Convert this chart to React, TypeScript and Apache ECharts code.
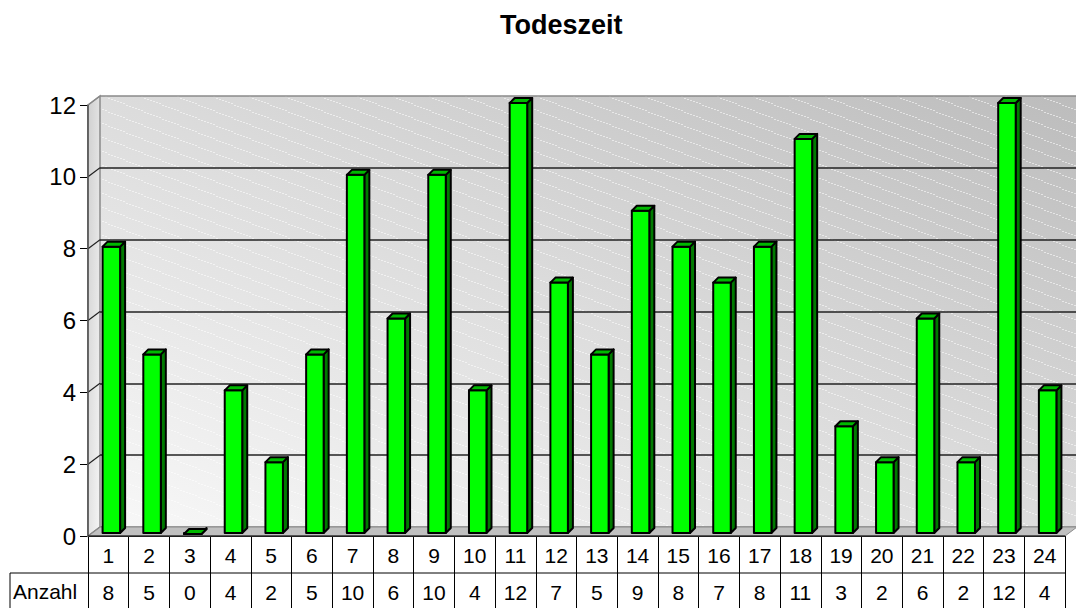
import React, { useEffect, useRef } from "react";
import * as echarts from "echarts";

const title = "Todeszeit";
const rowLabel = "Anzahl";
const hours = ["1", "2", "3", "4", "5", "6", "7", "8", "9", "10", "11", "12", "13", "14", "15", "16", "17", "18", "19", "20", "21", "22", "23", "24"];
const counts = [8, 5, 0, 4, 2, 5, 10, 6, 10, 4, 12, 7, 5, 9, 8, 7, 8, 11, 3, 2, 6, 2, 12, 4];
const yMin = 0;
const yMax = 12;
const yStep = 2;

const W = 1076;
const H = 608;
const FONT = "Arial, 'Liberation Sans', sans-serif";

function makeStripe(): string | null {
  try {
    const c = document.createElement("canvas");
    c.width = 36;
    c.height = 14;
    const ctx = c.getContext("2d");
    if (!ctx) return null;
    ctx.fillStyle = "rgba(255,255,255,0.55)";
    for (let k = 0; k < 36; k += 3) {
      const y = (k * 14) / 36;
      ctx.fillRect(k, Math.floor(y), 2, 1);
    }
    return c.toDataURL("image/png");
  } catch (e) {
    return null;
  }
}

export default function App() {
  const ref = useRef<HTMLDivElement>(null);
  useEffect(() => {
    document.body.style.margin = "0";
    const chart = echarts.init(ref.current!, null, { renderer: "svg" });
    const FL = 88, FR = 11, FT = 105, FB = 72;
    const DX = 12, DY = -9;
    const nLines = (yMax - yMin) / yStep + 1;
    const splitColors: string[] = [];
    for (let i = 0; i < nLines; i++) splitColors.push(i === nLines - 1 || i === 0 ? "#8a8a8a" : "#222222");

    const option: any = {
      animation: false,
      title: {
        text: title,
        left: 495,
        top: 6,
        textStyle: { fontFamily: FONT, fontSize: 27, fontWeight: "bold", color: "#000" },
      },
      grid: [
        { left: FL, right: FR, top: FT, bottom: FB, containLabel: false },
        {
          left: FL + DX, right: FR - DX, top: FT + DY, bottom: FB - DY, containLabel: false,
          show: true, borderWidth: 0,
          backgroundColor: new echarts.graphic.LinearGradient(0, 1, 1, 0, [
            { offset: 0, color: "#f8f8f8" },
            { offset: 0.5, color: "#dcdcdc" },
            { offset: 1, color: "#bcbcbc" },
          ]),
        },
      ],
      xAxis: [
        {
          type: "category", gridIndex: 0, data: hours, position: "bottom",
          axisLine: { show: true, lineStyle: { color: "#000", width: 1 } },
          axisTick: { show: true, length: 80, interval: 0, lineStyle: { color: "#000", width: 1 } },
          axisLabel: {
            interval: 0, margin: 1,
            formatter: (v: string, i: number) => `{h|${v}}\n{v|${counts[i]}}`,
            rich: {
              h: { fontFamily: FONT, fontSize: 21, lineHeight: 37, color: "#000" },
              v: { fontFamily: FONT, fontSize: 21, lineHeight: 36, color: "#000" },
            },
          },
          splitLine: { show: false },
        },
        { type: "category", gridIndex: 1, data: hours, show: false },
      ],
      yAxis: [
        {
          type: "value", gridIndex: 0, min: yMin, max: yMax, interval: yStep,
          axisLine: { show: true, lineStyle: { color: "#555", width: 1.5 } },
          axisTick: { show: true, length: 8, lineStyle: { color: "#000" } },
          axisLabel: { fontFamily: FONT, fontSize: 24, color: "#000", margin: 12 },
          splitLine: { show: false },
        },
        {
          type: "value", gridIndex: 1, min: yMin, max: yMax, interval: yStep, z: 3,
          axisLine: { show: false }, axisTick: { show: false }, axisLabel: { show: false },
          splitLine: { show: true, lineStyle: { color: splitColors, width: 1.5 } },
        },
      ],
      series: [
        {
          type: "custom",
          xAxisIndex: 0,
          yAxisIndex: 0,
          z: 5,
          data: counts.map((c, i) => [i, c]),
          renderItem: (params: any, api: any) => {
            const i = api.value(0);
            const v = api.value(1);
            const p0 = api.coord([i, 0]);
            const p1 = api.coord([i, v]);
            const w = api.size([1, 0])[0] * 0.43;
            const cx = p0[0] + 3;
            const base = p0[1] - 3;
            const top = p1[1] - 2;
            const l = cx - w / 2;
            const r = cx + w / 2;
            const dx = 5, dy = -5;
            const stroke = { stroke: "#000", lineWidth: 2, lineJoin: "round" };
            return {
              type: "group",
              children: [
                {
                  type: "polygon",
                  shape: { points: [[r, base], [r, top], [r + dx, top + dy], [r + dx, base + dy]] },
                  style: { fill: "#007a00", ...stroke },
                },
                {
                  type: "rect",
                  shape: { x: l, y: top, width: w, height: base - top },
                  style: { fill: "#00ff00", ...stroke },
                },
                {
                  type: "polygon",
                  shape: { points: [[l, top], [r, top], [r + dx, top + dy], [l + dx, top + dy]] },
                  style: { fill: "#00b800", ...stroke },
                },
              ],
            };
          },
        },
      ],
    };
    chart.setOption(option);

    const yPix = (t: number) => chart.convertToPixel({ yAxisIndex: 0 }, t) as number;
    const y0 = yPix(yMin);
    const yTop = yPix(yMax);
    const xr = W - FR;
    const graphics: any[] = [];
    const stripe = makeStripe();
    if (stripe) {
      graphics.push({
        type: "rect", z: 1,
        shape: { x: FL + DX, y: yTop + DY, width: W - FL - DX, height: y0 - yTop },
        style: { fill: { image: stripe, repeat: "repeat", imageWidth: 36, imageHeight: 14 } },
        silent: true,
      });
    }
    graphics.push({
      type: "polygon", z: 1,
      shape: { points: [[FL, yTop], [FL + DX, yTop + DY], [FL + DX, y0 + DY], [FL, y0]] },
      style: {
        fill: new echarts.graphic.LinearGradient(0, 0, 1, 1, [
          { offset: 0, color: "#cfcfcf" },
          { offset: 1, color: "#f5f5f5" },
        ]),
        stroke: "#8a8a8a", lineWidth: 1.5,
      },
    });
    graphics.push({
      type: "polygon", z: 4,
      shape: { points: [[FL, y0], [FL + DX, y0 + DY], [xr + DX, y0 + DY], [xr, y0]] },
      style: { fill: "#c0c0c0", stroke: "#8a8a8a", lineWidth: 1 },
    });
    for (let t = yMin; t <= yMax; t += yStep) {
      const y = yPix(t);
      graphics.push({
        type: "line", z: 4,
        shape: { x1: FL, y1: y, x2: FL + DX, y2: y + DY },
        style: { stroke: t === yMax || t === yMin ? "#8a8a8a" : "#222", lineWidth: 1.2 },
      });
    }
    graphics.push({
      type: "line", z: 4,
      shape: { x1: FL, y1: yTop, x2: FL, y2: y0 },
      style: { stroke: "#555", lineWidth: 1.5 },
    });
    graphics.push({
      type: "line", z: 4,
      shape: { x1: FL, y1: y0, x2: xr, y2: y0 },
      style: { stroke: "#000", lineWidth: 1 },
    });
    const rowY = y0 + 37;
    graphics.push({
      type: "line", z: 1,
      shape: { x1: 10, y1: rowY, x2: xr, y2: rowY },
      style: { stroke: "#000", lineWidth: 1 },
    });
    graphics.push({
      type: "line", z: 1,
      shape: { x1: 10, y1: rowY, x2: 10, y2: H },
      style: { stroke: "#000", lineWidth: 1 },
    });
    graphics.push({
      type: "text", z: 1,
      x: 13, y: rowY + 18,
      style: { text: rowLabel, font: `21px ${FONT}`, fill: "#000", textVerticalAlign: "middle", verticalAlign: "middle" },
    });
    chart.setOption({ graphic: graphics });

    return () => chart.dispose();
  }, []);
  return <div ref={ref} style={{ width: W, height: H }} />;
}
